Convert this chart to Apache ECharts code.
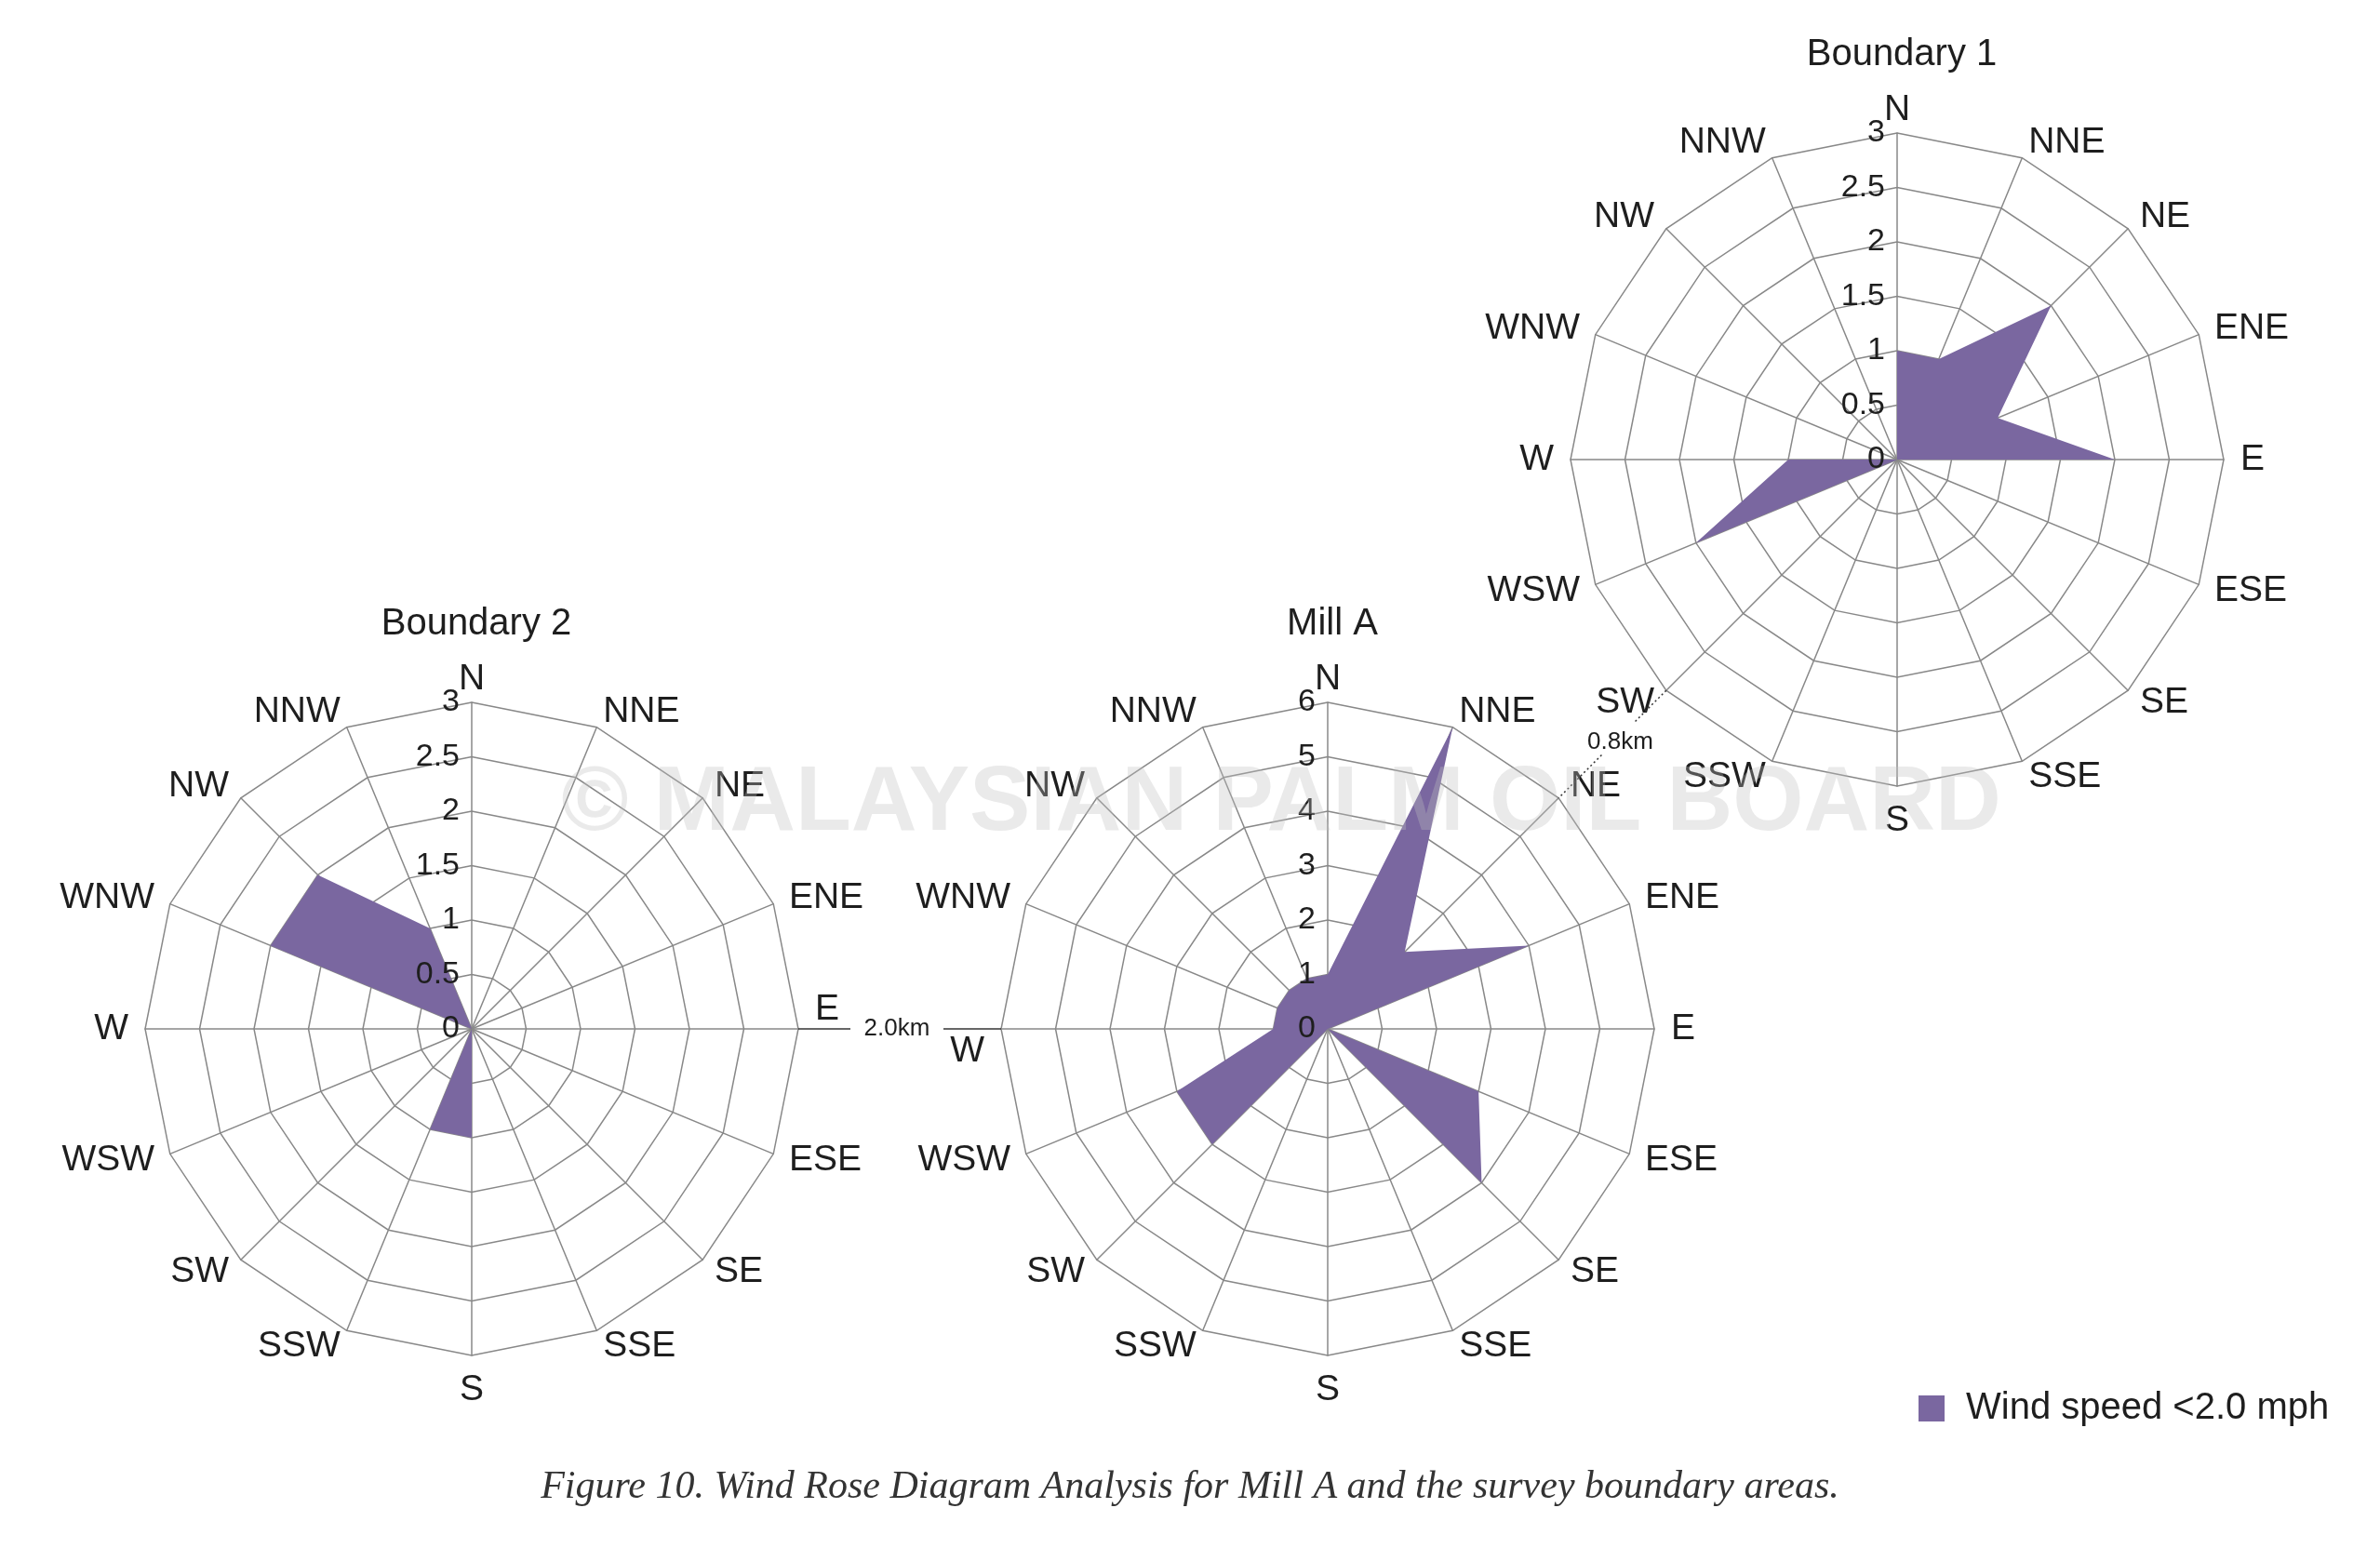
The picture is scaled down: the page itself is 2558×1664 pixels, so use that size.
<!DOCTYPE html>
<html>
<head>
<meta charset="utf-8">
<title>Wind Rose Diagram Analysis for Mill A</title>
<script src="https://cdn.jsdelivr.net/npm/echarts@6/dist/echarts.min.js"></script>
<style>
  html, body { margin: 0; padding: 0; background: #fff; }
  #chart { width: 2558px; height: 1664px; }
</style>
</head>
<body>
<div id="chart"></div>
<script>
// compass directions, clockwise from north
var directions = ['N', 'NNE', 'NE', 'ENE', 'E', 'ESE', 'SE', 'SSE', 'S', 'SSW', 'SW', 'WSW', 'W', 'WNW', 'NW', 'NNW'];
var boundary1 = [1, 1, 2, 1, 2, 0, 0, 0, 0, 0, 0, 2, 1, 0, 0, 0];
var boundary2 = [0, 0, 0, 0, 0, 0, 0, 0, 1, 1, 0, 0, 0, 2, 2, 1];
var millA = [1, 6, 2, 4, 0, 3, 4, 0, 0, 0, 3, 3, 1, 1, 1, 1];
var boundaryTicks = [0, 0.5, 1, 1.5, 2, 2.5, 3];
var millTicks = [0, 1, 2, 3, 4, 5, 6];
var seriesName = 'Wind speed <2.0 mph';

var PURPLE = '#7a67a0';
var GRID = '#888888';
var TEXT = '#1e1e1e';
var FONT = '"Liberation Sans", Arial, Helvetica, sans-serif';
var R = 351;

// one entry per rose: title, values, ticks, where it sits
var roses = [
  { title: 'Boundary 1', values: boundary1, ticks: boundaryTicks, center: [2039, 494], titleTop: 34 },
  { title: 'Boundary 2', values: boundary2, ticks: boundaryTicks, center: [507, 1106], titleTop: 646, raise: 'E' },
  { title: 'Mill A', values: millA, ticks: millTicks, center: [1427, 1106], titleTop: 646, lower: 'W' }
];

// echarts lays radar axes out counter-clockwise, the rose runs clockwise
function clockwise(arr) {
  return [arr[0]].concat(arr.slice(1).reverse());
}

var nameRich = {
  up: { fontSize: 39, color: TEXT, fontFamily: FONT, padding: [0, 0, 42, 0] },
  down: { fontSize: 39, color: TEXT, fontFamily: FONT, padding: [48, 0, 0, 0] },
  // north label sits closer to the outer ring
  north: { fontSize: 39, color: TEXT, fontFamily: FONT, lineHeight: 14 }
};

var chart = echarts.init(document.getElementById('chart'));

var option = {
  backgroundColor: '#fff',
  animation: false,
  title: roses.map(function (r) {
    return {
      text: r.title, left: r.center[0], top: r.titleTop, textAlign: 'center',
      textStyle: { fontFamily: FONT, fontSize: 40, fontWeight: 'normal', color: TEXT }
    };
  }).concat([{
    text: 'Figure 10. Wind Rose Diagram Analysis for Mill A and the survey boundary areas.',
    left: 1274, top: 1573, textAlign: 'center',
    textStyle: { fontFamily: '"Liberation Serif", "Times New Roman", serif', fontStyle: 'italic', fontWeight: 'normal', fontSize: 42, color: '#333' }
  }]),
  legend: {
    data: [seriesName],
    left: 2062, top: 1494, padding: 0,
    icon: 'rect', itemWidth: 28, itemHeight: 28,
    textStyle: { fontFamily: FONT, fontSize: 40, color: TEXT, padding: [0, 0, 0, 18] }
  },
  radar: roses.map(function (r) {
    var max = r.ticks[r.ticks.length - 1];
    return {
      center: r.center, radius: R, startAngle: 90, shape: 'polygon',
      splitNumber: r.ticks.length - 1,
      indicator: clockwise(directions).map(function (d) { return { name: d, min: 0, max: max }; }),
      nameGap: 18,
      axisName: {
        color: TEXT, fontSize: 39, fontFamily: FONT,
        formatter: function (name) {
          if (name === r.raise) return '{up|' + name + '}';
          if (name === r.lower) return '{down|' + name + '}';
          if (name === 'N') return '{north|N}';
          return name;
        },
        rich: nameRich
      },
      splitLine: { lineStyle: { color: GRID, width: 1.5 } },
      splitArea: { show: false },
      axisLine: { lineStyle: { color: GRID, width: 1.5 } },
      axisTick: { show: false },
      axisLabel: { show: false }
    };
  }),
  // polar overlay only to print the radial scale along the north spoke
  polar: roses.map(function (r) { return { center: r.center, radius: R }; }),
  angleAxis: roses.map(function (r, i) {
    return {
      polarIndex: i, type: 'value', min: 0, max: 360, startAngle: 90,
      axisLine: { show: false }, axisTick: { show: false }, axisLabel: { show: false }, splitLine: { show: false }
    };
  }),
  radiusAxis: roses.map(function (r, i) {
    return {
      polarIndex: i, type: 'value', min: r.ticks[0], max: r.ticks[r.ticks.length - 1],
      interval: r.ticks[1] - r.ticks[0], z: 10,
      axisLine: { show: false }, axisTick: { show: false }, splitLine: { show: false },
      axisLabel: { fontFamily: FONT, fontSize: 34, color: TEXT, margin: 13 }
    };
  }),
  series: roses.map(function (r, i) {
    return {
      type: 'radar', radarIndex: i, symbol: 'none', silent: true,
      lineStyle: { width: 0 },
      itemStyle: { color: PURPLE },
      areaStyle: { color: PURPLE, opacity: 1 },
      data: [{ name: seriesName, value: clockwise(r.values) }]
    };
  })
};

// distance annotations between the roses
var b1 = roses[0].center, b2 = roses[1].center, ma = roses[2].center;
var d = R * Math.SQRT1_2;
var neMill = [ma[0] + d, ma[1] - d];
var swB1 = [b1[0] - d, b1[1] + d];
function along(t) {
  return [swB1[0] + (neMill[0] - swB1[0]) * t, swB1[1] + (neMill[1] - swB1[1]) * t];
}
var p1 = along(0.3), p2 = along(0.6);

option.graphic = [
  { type: 'line', z: 5, shape: { x1: b2[0] + R, y1: b2[1], x2: 914, y2: b2[1] }, style: { stroke: '#333', lineWidth: 1.5 } },
  { type: 'line', z: 5, shape: { x1: 1014, y1: ma[1], x2: ma[0] - R, y2: ma[1] }, style: { stroke: '#333', lineWidth: 1.5 } },
  { type: 'text', z: 5, x: 964, y: b2[1], style: { text: '2.0km', fill: TEXT, fontSize: 26, fontFamily: FONT, align: 'center', verticalAlign: 'middle', textAlign: 'center', textVerticalAlign: 'middle' } },
  { type: 'line', z: 5, shape: { x1: swB1[0], y1: swB1[1], x2: p1[0], y2: p1[1] }, style: { stroke: '#333', lineWidth: 1.5, lineDash: [2, 3] } },
  { type: 'line', z: 5, shape: { x1: p2[0], y1: p2[1], x2: neMill[0], y2: neMill[1] }, style: { stroke: '#333', lineWidth: 1.5, lineDash: [2, 3] } },
  { type: 'text', z: 5, x: 1706, y: 798, style: { text: '0.8km', fill: TEXT, fontSize: 26, fontFamily: FONT, align: 'left', verticalAlign: 'middle', textAlign: 'left', textVerticalAlign: 'middle' } },
  // faint copyright watermark laid over the figure
  { type: 'text', z: 100, x: 1377, y: 865, silent: true, style: { text: '\u00a9 MALAYSIAN PALM OIL BOARD', fill: 'rgba(190,190,190,0.33)', fontSize: 98, fontWeight: 'bold', fontFamily: FONT, align: 'center', verticalAlign: 'middle', textAlign: 'center', textVerticalAlign: 'middle' } }
];

chart.setOption(option);
</script>
</body>
</html>
